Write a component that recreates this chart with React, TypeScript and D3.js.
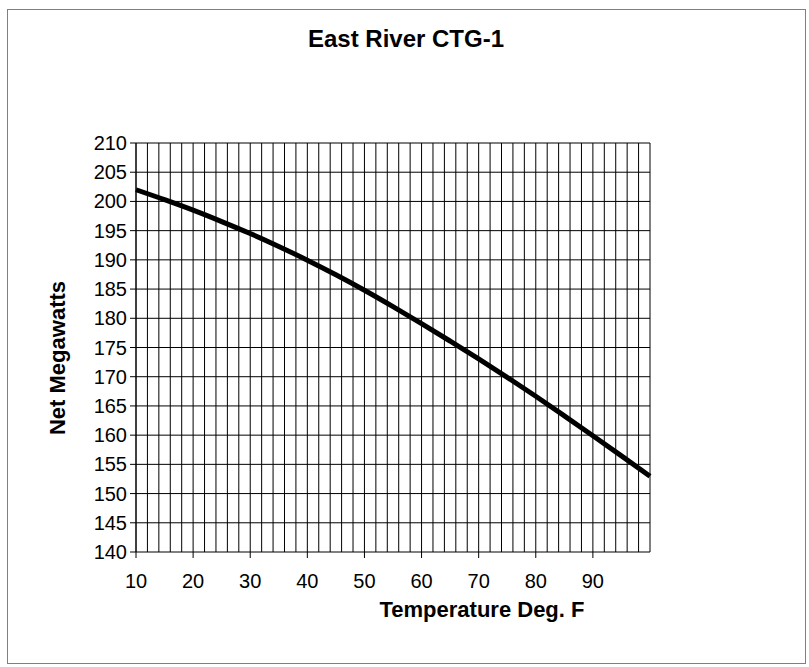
import React from "react";
import * as d3 from "d3";

const temps = [10, 15, 20, 25, 30, 35, 40, 45, 50, 55, 60, 65, 70, 75, 80, 85, 90, 95, 100];
const megawatts = [202, 200.3, 198.5, 196.55, 194.5, 192.3, 189.95, 187.45, 184.8, 182.0, 179.1, 176.1, 173.05, 169.9, 166.65, 163.3, 159.9, 156.45, 152.95];
const xTicks = [10, 20, 30, 40, 50, 60, 70, 80, 90];
const yTicks = [140, 145, 150, 155, 160, 165, 170, 175, 180, 185, 190, 195, 200, 205, 210];
const xGrid = d3.range(10, 100.01, 2);

const W = 809, H = 667;
const M = { left: 136, top: 143, right: 650, bottom: 552 };

export default function App() {
  const x = d3.scaleLinear().domain([10, 100]).range([M.left, M.right]);
  const y = d3.scaleLinear().domain([140, 210]).range([M.bottom, M.top]);
  const line = d3.line<number>().x((_, i) => x(temps[i])).y((d) => y(d)).curve(d3.curveMonotoneX);
  const font = "'Liberation Sans', Arial, sans-serif";
  return (
    <svg width={W} height={H} style={{ position: "absolute", left: 0, top: 0 }} fontFamily={font}>
      <rect x={0} y={0} width={W} height={H} fill="#fff" />
      <rect x={7.5} y={9.5} width={798} height={654} fill="none" stroke="#808080" strokeWidth={1} />
      <text x={406} y={47} textAnchor="middle" fontSize={24} fontWeight="bold">East River CTG-1</text>
      {xGrid.map((v) => (
        <line key={"gx" + v} x1={x(v)} x2={x(v)} y1={M.top} y2={M.bottom} stroke="#000" strokeWidth={1} />
      ))}
      {yTicks.map((v) => (
        <line key={"gy" + v} x1={M.left - 6} x2={M.right} y1={y(v)} y2={y(v)} stroke="#000" strokeWidth={1} />
      ))}
      <line x1={M.left} x2={M.left} y1={M.top} y2={M.bottom} stroke="#000" strokeWidth={1} />
      {xTicks.map((v) => (
        <g key={"xt" + v}>
          <line x1={x(v)} x2={x(v)} y1={M.bottom} y2={M.bottom + 6} stroke="#000" />
          <text x={x(v)} y={M.bottom + 36} textAnchor="middle" fontSize={20}>{v}</text>
        </g>
      ))}
      {yTicks.map((v) => (
        <text key={"yt" + v} x={M.left - 9} y={y(v) + 7} textAnchor="end" fontSize={20}>{v}</text>
      ))}
      <path d={line(megawatts) || ""} fill="none" stroke="#000" strokeWidth={5} />
      <text x={482} y={617} textAnchor="middle" fontSize={22} fontWeight="bold">Temperature Deg. F</text>
      <text transform={`translate(65,358) rotate(-90)`} textAnchor="middle" fontSize={22} fontWeight="bold">Net Megawatts</text>
    </svg>
  );
}
